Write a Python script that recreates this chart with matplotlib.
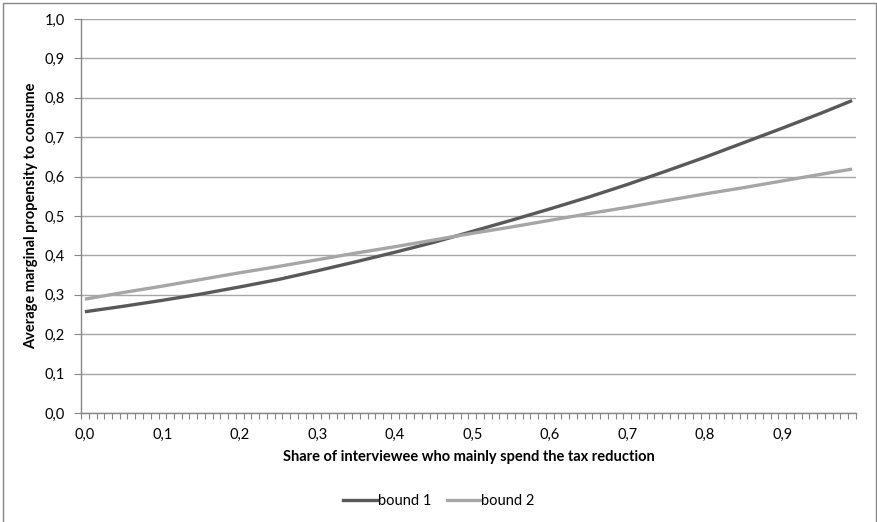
import matplotlib
matplotlib.use('Agg')
import matplotlib.pyplot as plt
from matplotlib.patches import Rectangle
from matplotlib.lines import Line2D

plt.rcParams['font.family'] = ['Lato', 'DejaVu Sans']

# share of interviewees (category values 0.00 .. 0.99)
share = [0.00, 0.05, 0.10, 0.15, 0.20, 0.25, 0.30, 0.35, 0.40, 0.45, 0.50,
         0.55, 0.60, 0.65, 0.70, 0.75, 0.80, 0.85, 0.90, 0.95, 0.99]
bound1 = [0.257, 0.271, 0.286, 0.302, 0.320, 0.339, 0.361, 0.384, 0.408, 0.433, 0.461,
          0.489, 0.518, 0.548, 0.580, 0.614, 0.649, 0.686, 0.723, 0.761, 0.793]
bound2 = [0.289, 0.306, 0.322, 0.339, 0.356, 0.372, 0.389, 0.406, 0.422, 0.439, 0.456,
          0.472, 0.489, 0.506, 0.522, 0.539, 0.556, 0.572, 0.589, 0.606, 0.619]
series_names = ['bound 1', 'bound 2']
series_colors = ['#595959', '#a6a6a6']
xtick_vals = [0.0, 0.1, 0.2, 0.3, 0.4, 0.5, 0.6, 0.7, 0.8, 0.9]
ytick_vals = [0.0, 0.1, 0.2, 0.3, 0.4, 0.5, 0.6, 0.7, 0.8, 0.9, 1.0]

W, H = 878, 522
fig = plt.figure(figsize=(W / 100, H / 100), dpi=100)

# outer chart frame
fig.patches.append(Rectangle((3 / W, -0.01), 873 / W, 1.01 - 3 / H, transform=fig.transFigure,
                             fill=False, edgecolor='#868686', linewidth=1.0))

ax = fig.add_axes([81 / W, 1 - 413 / H, 775 / W, 394 / H])
for ys, name, c in zip([bound1, bound2], series_names, series_colors):
    ax.plot(share, ys, color=c, linewidth=2.4, label=name, solid_capstyle='butt')

ax.set_xlim(-0.005, 0.995)
ax.set_ylim(0, 1.0)

# category axis: small ticks between categories, labels centred on categories
ax.set_xticks([-0.005 + 0.01 * k for k in range(101)], minor=True)
ax.set_xticks(xtick_vals)
ax.set_xticklabels([f'{v:.1f}'.replace('.', ',') for v in xtick_vals], fontsize=10.5)
ax.tick_params(axis='x', which='major', length=0, pad=11)
ax.tick_params(axis='x', which='minor', length=4, direction='out', color='#868686', width=0.8)

ax.set_yticks(ytick_vals)
ax.set_yticklabels([f'{v:.1f}'.replace('.', ',') for v in ytick_vals], fontsize=10.5)
ax.tick_params(axis='y', length=5, direction='out', color='#868686', width=0.8, pad=6.5)

ax.grid(axis='y', color='#a6a6a6', linewidth=1.0)
ax.set_axisbelow(True)
for s in ['top', 'right']:
    ax.spines[s].set_visible(False)
for s in ['left', 'bottom']:
    ax.spines[s].set_color('#868686')
    ax.spines[s].set_linewidth(1.0)

ax.set_xlabel('Share of interviewee who mainly spend the tax reduction',
              fontsize=10.5, fontweight='bold')
ax.xaxis.set_label_coords(0.5, -(457 - 413) / 394)
ax.set_ylabel('Average marginal propensity to consume', fontsize=10.5, fontweight='bold')
ax.yaxis.set_label_coords(-(81 - 31) / 775, 0.5)
ax.yaxis.label.set_va('center')
ax.xaxis.label.set_va('center')

handles = [Line2D([], [], color=c, linewidth=2.4) for c in series_colors]
fig.legend(handles, series_names, loc='center', bbox_to_anchor=(0.5, 1 - 501 / H), ncol=2,
           frameon=False, fontsize=10.5, handlelength=2.3, handletextpad=0.05, columnspacing=1.1)

fig.savefig('out.png', dpi=100)
